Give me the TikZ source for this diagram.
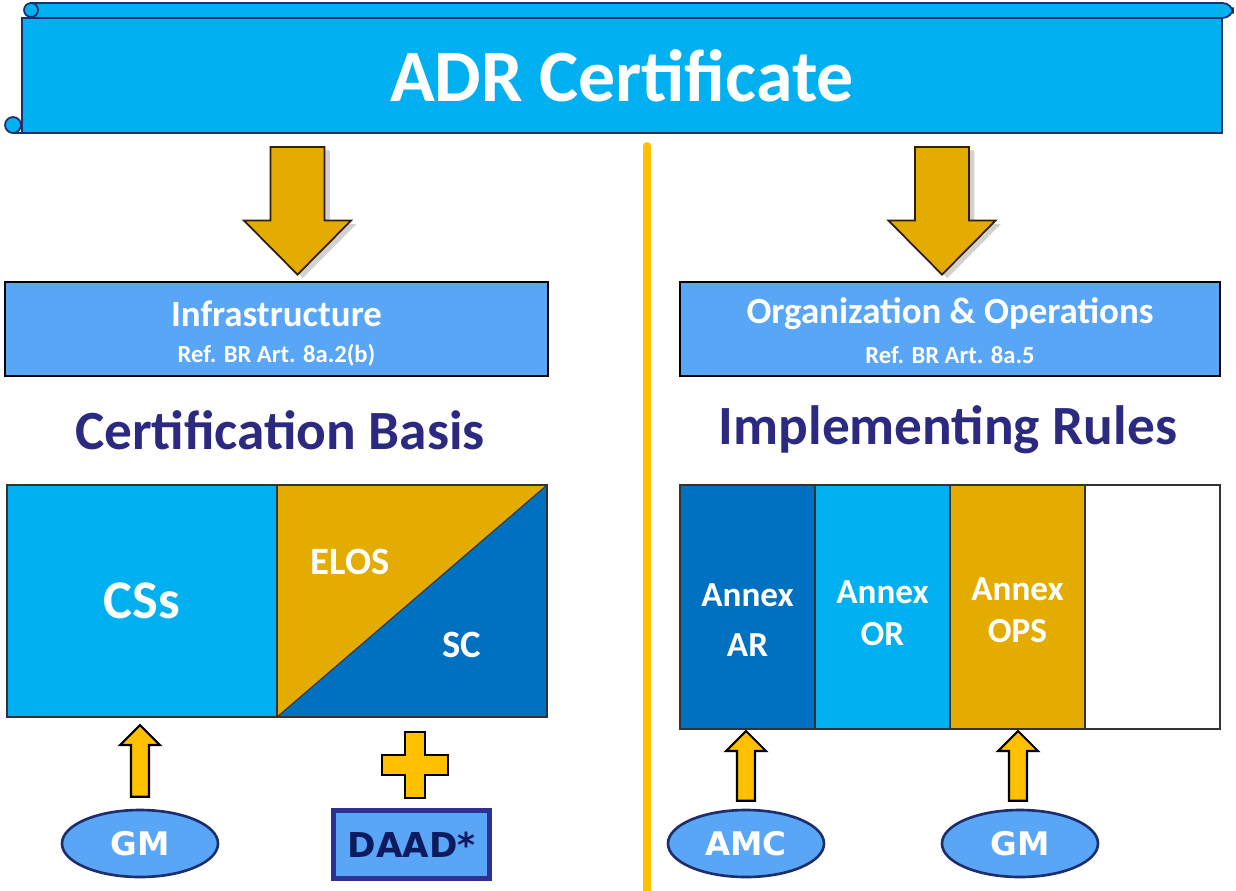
\documentclass[tikz,border=0pt]{standalone}
\usepackage{fontspec}
\setmainfont{Carlito}
\newfontfamily\verdfont{DejaVu Sans}
\usetikzlibrary{calc,positioning,shapes.geometric,shadows}

\definecolor{skyblue}{RGB}{0,176,240}
\definecolor{midblue}{RGB}{88,166,245}
\definecolor{deepblue}{RGB}{0,112,192}
\definecolor{gold}{RGB}{228,172,0}
\definecolor{amber}{RGB}{255,192,0}
\definecolor{navy}{RGB}{43,42,128}
\definecolor{inkblue}{RGB}{30,45,110}
\definecolor{rimblue}{RGB}{46,49,146}
\definecolor{daadtext}{RGB}{13,27,94}
\definecolor{arrowbrown}{RGB}{50,30,10}

\newcommand{\pxu}{0.02cm}

% vertical block arrow: start, tip, shaft half width, head half width, signed head length
\newcommand{\blockarrow}[6][]{%
  \draw[#1] ($(#2)+(-#4,0)$) -- ($(#3)+(-#4,#6)$) -- ($(#3)+(-#5,#6)$) -- (#3)
    -- ($(#3)+(#5,#6)$) -- ($(#3)+(#4,#6)$) -- ($(#2)+(#4,0)$) -- cycle;}

\begin{document}
\begin{tikzpicture}[x=\pxu,y=-\pxu,
    scroll/.style={draw=inkblue,line width=1pt,fill=skyblue},
    infobox/.style={draw=black,line width=1.6pt,fill=midblue,minimum width=543*\pxu,minimum height=94*\pxu,inner sep=0pt},
    boxtitle/.style={text=white,font=\bfseries\fontsize{21}{24}\selectfont},
    boxref/.style={text=white,font=\bfseries\fontsize{14}{16}\selectfont},
    heading/.style={text=navy,font=\bfseries\fontsize{31.5}{36}\selectfont},
    part/.style={draw=black!80,line width=0.6pt,minimum height=232*\pxu,minimum width=270*\pxu,inner sep=0pt,outer sep=0pt},
    annex/.style={draw=black!80,line width=0.6pt,minimum height=244*\pxu,minimum width=135*\pxu,inner sep=0pt,outer sep=0pt},
    annextext/.style={text=white,align=center,font=\bfseries\fontsize{20}{24}\selectfont},
    bigtext/.style={text=white,font=\bfseries\fontsize{22}{24}\selectfont},
    bigdown/.style={draw=arrowbrown,line width=1pt,fill=gold,drop shadow={shadow xshift=3pt,shadow yshift=-2pt,opacity=.3,fill=black!60}},
    smallup/.style={draw=black,line width=1.2pt,fill=amber},
    guide/.style={ellipse,draw=inkblue,line width=1.5pt,fill=midblue,minimum width=156*\pxu,minimum height=67*\pxu,inner sep=0pt,
      text=white,font=\verdfont\bfseries\fontsize{18.5}{20}\selectfont},
    daadbox/.style={draw=rimblue,line width=2.8pt,fill=midblue,minimum width=156*\pxu,minimum height=68*\pxu,inner sep=0pt,
      text=daadtext,font=\verdfont\bfseries\fontsize{19.5}{22}\selectfont}
  ]
  \useasboundingbox (0,0) rectangle (1236,890);

  % scroll banner
  \draw[scroll,rounded corners=6] (30,3) -- (1233,3) -- (1233,18) -- (30,18);
  \draw[scroll] (31,10) circle (7);
  \draw[scroll] (22,133) -- (12,133);
  \draw[scroll] (13,125) circle (8);
  \node[scroll,minimum width=1200*\pxu,minimum height=115*\pxu,inner sep=0pt,
    text=white,font=\bfseries\fontsize{42}{48}\selectfont] (banner) at (622,75.5) {ADR Certificate};

  % divider
  \draw[amber,line width=4.5pt,line cap=round] (647,146) -- (647,892);

  % boxes
  \node[infobox] (infra) at (276.5,329) {};
  \node[boxtitle] (infrat) at ($(infra.center)+(0,-15)$) {Infrastructure};
  \node[boxref] (infrar) at ($(infra.center)+(0,26)$) {Ref. BR Art. 8a.2(b)};

  \node[infobox,minimum width=540*\pxu] (orgbox) at (950,329) {};
  \node[boxtitle] (orgt) at ($(orgbox.center)+(0,-15)$) {Organization \& Operations};
  \node[boxref] (orgr) at ($(orgbox.center)+(0,26)$) {Ref. BR Art. 8a.5};

  % big arrows
  \coordinate (d1s) at ($(infra.north |- banner.south)+(21,13)$);
  \coordinate (d1e) at ($(infra.north)+(21,-6)$);
  \coordinate (d2s) at ($(orgbox.north |- banner.south)+(-8,13)$);
  \coordinate (d2e) at ($(orgbox.north)+(-8,-6)$);
  \blockarrow[bigdown]{d1s}{d1e}{27}{53.5}{-54}
  \blockarrow[bigdown]{d2s}{d2e}{27}{53.5}{-54}

  % headings
  \node[heading] (cbasis) at (280,430) {Certification Basis};
  \node[heading] (irules) at (948,430) {Implementing Rules};

  % certification basis
  \node[part,fill=skyblue,text=white,font=\bfseries\fontsize{31}{34}\selectfont] (css) at (142,601) {CSs};
  \node[part,right=0pt of css] (mix) {};
  \fill[gold] (mix.north west) -- (mix.north east) -- (mix.south west) -- cycle;
  \fill[deepblue] (mix.north east) -- (mix.south east) -- (mix.south west) -- cycle;
  \draw[black!80,line width=0.6pt] (mix.north west) rectangle (mix.south east);
  \draw[black!80,line width=0.6pt] (mix.south west) -- (mix.north east);
  \node[bigtext] (elos) at ($(mix.center)+(-62,-39)$) {ELOS};
  \node[bigtext] (sc) at ($(mix.center)+(50,44)$) {SC};

  % implementing rules
  \node[annex,fill=deepblue] (annexar) at (747.5,607) {};
  \node[annex,fill=skyblue,right=0pt of annexar] (annexor) {};
  \node[annex,fill=gold,right=0pt of annexor] (annexops) {};
  \node[annex,fill=white,right=0pt of annexops] (annexnil) {};
  \node[annextext] (arname) at ($(annexar.center)+(0,13)$) {Annex\\[4pt]AR};
  \node[annextext] (orname) at ($(annexor.center)+(0,6)$) {Annex\\OR};
  \node[annextext] (opsname) at ($(annexops.center)+(0,3)$) {Annex\\OPS};

  % sources
  \node[guide] (gmleft) at (140,843.5) {GM};
  \node[daadbox] (daad) at (411.5,844.5) {DAAD*};
  \node[guide] (amc) at (746,843.5) {AMC};
  \node[guide] (gmright) at (1020,843.5) {GM};

  \coordinate (u1s) at ($(gmleft.north)+(0,-12)$);
  \coordinate (u1e) at ($(gmleft.north |- css.south)+(0,8)$);
  \coordinate (u2s) at ($(amc.north)+(0,-8)$);
  \coordinate (u2e) at ($(amc.north |- annexar.south)+(0,2)$);
  \coordinate (u3s) at ($(gmright.north)+(-2,-8)$);
  \coordinate (u3e) at ($(gmright.north |- annexops.south)+(-2,2)$);
  \blockarrow[smallup]{u1s}{u1e}{9}{20}{20}
  \blockarrow[smallup]{u2s}{u2e}{9}{20}{20}
  \blockarrow[smallup]{u3s}{u3e}{9}{20}{20}

  % plus
  \coordinate (pl) at (415,765);
  \draw[smallup] ($(pl)+(-10,-33)$) -- ++(20,0) -- ++(0,23) -- ++(23,0) -- ++(0,20) -- ++(-23,0) -- ++(0,23)
    -- ++(-20,0) -- ++(0,-23) -- ++(-23,0) -- ++(0,-20) -- ++(23,0) -- cycle;
\end{tikzpicture}
\end{document}
